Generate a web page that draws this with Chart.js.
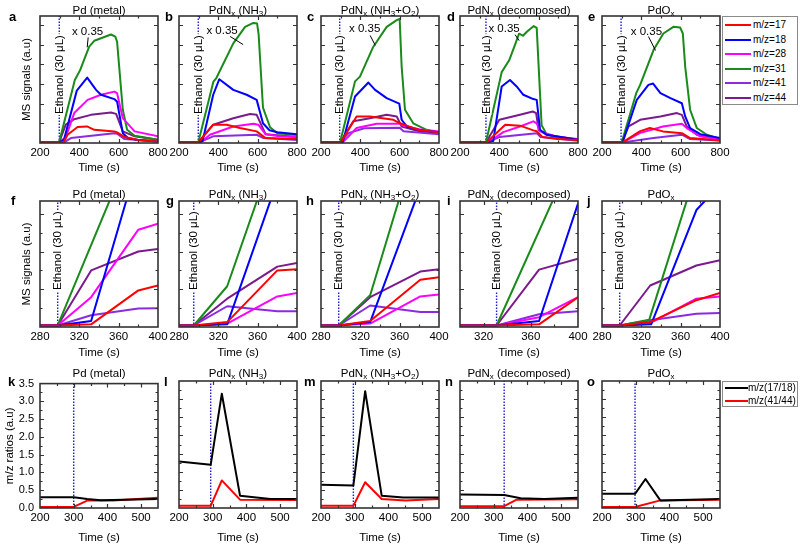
<!DOCTYPE html>
<html><head><meta charset="utf-8">
<script src="https://cdn.jsdelivr.net/npm/chart.js@4.4.1/dist/chart.umd.min.js"></script>
<style>
body{margin:0;background:#fff;width:800px;height:547px;overflow:hidden;position:relative;font-family:"Liberation Sans",Arial,Helvetica,sans-serif;color:#000}
canvas{position:absolute}
.t{position:absolute;font-size:11.5px;white-space:nowrap;transform:translateX(-50%);line-height:13px}
.t sub{font-size:8px;vertical-align:-2px;line-height:0}
.lt{position:absolute;font-weight:bold;font-size:13px;line-height:13px}
.leg{position:absolute;border:1px solid #8a8a8a;background:#fff;box-sizing:border-box}
.lrow{position:absolute;left:0;white-space:nowrap;font-size:10px;line-height:12px}
.lsw{position:absolute;height:0;border-top-style:solid}
</style></head><body>
<script>
// ---------- DATA ----------
const SERIES = ['m/z=17','m/z=18','m/z=28','m/z=31','m/z=41','m/z=44'];
const RATIO_SERIES = ['m/z(17/18)','m/z(41/44)'];
const TITLES = ['Pd (metal)','PdN<sub>x</sub> (NH<sub>3</sub>)','PdN<sub>x</sub> (NH<sub>3</sub>+O<sub>2</sub>)','PdN<sub>x</sub> (decomposed)','PdO<sub>x</sub>'];
const LETTERS = ['a','b','c','d','e','f','g','h','i','j','k','l','m','n','o'];
const INJECT = [298,298,295,332,297, 298,295,298,331,298, 300,294,296,331,298];

// Row 1: full runs (a-e)
const a17=[[200,.03],[300,.03],[322,.06],[340,.42],[391,.81],[439,.84],[476,.67],[578,.59],[592,.54],[630,.30],[700,.15],[800,.08]];
const a18=[[200,.03],[297,.03],[322,.17],[387,2.66],[440,3.32],[485,2.7],[510,2.45],[578,2.23],[592,2.1],[621,.5],[647,.25],[700,.15],[800,.08]];
const a28=[[200,.03],[297,.03],[331,.3],[374,1.52],[442,2.19],[510,2.45],[578,2.61],[592,2.53],[621,1.26],[681,.59],[800,.34]];
const a31=[[200,.03],[297,.03],[377,3.2],[404,3.7],[450,4.89],[476,5.19],[561,5.51],[583,5.4],[592,5.14],[621,1.69],[643,.67],[681,.37],[800,.17]];
const a41=[[200,.03],[322,.03],[357,.25],[578,.5],[592,.47],[630,.2],[800,.08]];
const a44=[[200,.03],[297,.03],[331,.93],[374,1.21],[459,1.43],[561,1.55],[587,1.48],[621,.59],[681,.34],[800,.17]];

const b17=[[200,.03],[298,.03],[374,.93],[442,.93],[510,.76],[595,.59],[640,.25],[800,.2]];
const b18=[[200,.03],[300,.03],[320,.1],[374,2.45],[405,3.24],[476,2.7],[544,2.45],[595,2.19],[627,1.0],[660,.65],[700,.55],[800,.45]];
const b28=[[200,.03],[310,.03],[357,.42],[476,.84],[578,.98],[603,.93],[640,.45],[700,.35],[800,.3]];
const b31=[[200,.03],[298,.03],[375,3.12],[390,3.3],[476,5.06],[536,5.9],[578,6.1],[597,6.07],[605,5.5],[627,1.8],[663,.8],[700,.5],[800,.4]];
const b41=[[200,.03],[300,.03],[374,.34],[595,.42],[630,.25],[800,.15]];
const b44=[[200,.03],[298,.03],[374,.93],[476,1.26],[561,1.47],[595,1.43],[640,.45],[700,.4],[800,.3]];

const c17=[[200,.03],[300,.03],[381,1.35],[449,1.35],[568,1.18],[602,1.0],[636,.88],[700,.65],[800,.54]];
const c18=[[200,.03],[310,.03],[373,2.36],[441,3.07],[475,2.7],[534,2.28],[598,2.0],[610,1.18],[636,.84],[700,.65],[800,.54]];
const c28=[[200,.03],[310,.03],[381,.76],[483,.98],[602,.98],[619,.88],[700,.7],[800,.59]];
const c31=[[200,.03],[297,.03],[373,3.13],[398,3.37],[466,4.89],[534,5.9],[585,6.24],[600,6.3],[610,3.9],[627,1.69],[669,1.0],[737,.67],[800,.5]];
const c41=[[200,.03],[297,.03],[340,.5],[420,.75],[600,.78],[620,.6],[800,.45]];
const c44=[[200,.03],[297,.03],[364,1.1],[449,1.26],[534,1.43],[585,1.35],[610,.84],[700,.6],[800,.5]];

const d17=[[200,.03],[335,.03],[430,.93],[505,.88],[573,.64],[590,.6],[620,.3],[700,.2],[800,.15]];
const d18=[[200,.03],[335,.03],[369,.1],[412,2.87],[454,3.2],[488,2.87],[522,2.45],[573,2.23],[590,2.19],[607,.67],[640,.42],[800,.17]];
const d28=[[200,.03],[345,.03],[420,.55],[505,.84],[573,1.1],[590,1.0],[607,.59],[700,.3],[800,.2]];
const d31=[[200,.03],[332,.03],[412,3.6],[450,4.2],[480,5.0],[500,5.55],[520,5.45],[540,5.65],[575,5.94],[590,5.85],[615,.9],[640,.45],[700,.25],[800,.17]];
const d41=[[200,.03],[335,.03],[400,.3],[590,.5],[610,.3],[800,.12]];
const d44=[[200,.03],[332,.03],[400,1.18],[505,1.43],[570,1.6],[587,1.52],[600,.67],[640,.42],[800,.17]];

const e17=[[200,.03],[305,.03],[392,.59],[443,.76],[510,.59],[606,.5],[648,.25],[800,.13]];
const e18=[[200,.03],[305,.03],[360,1.69],[377,2.19],[436,2.95],[460,3.02],[497,2.53],[548,2.28],[606,2.02],[623,1.35],[648,.76],[700,.45],[800,.25]];
const e28=[[200,.03],[305,.03],[392,.5],[510,.84],[606,.98],[631,.76],[699,.34],[800,.17]];
const e31=[[200,.03],[300,.03],[374,2.53],[394,2.95],[462,4.72],[512,5.56],[563,5.9],[597,5.87],[611,5.56],[623,3.88],[648,1.69],[682,.76],[733,.42],[800,.2]];
const e41=[[200,.03],[305,.03],[462,.25],[606,.42],[648,.2],[800,.13]];
const e44=[[200,.03],[300,.03],[335,.84],[394,1.18],[497,1.35],[581,1.52],[606,1.43],[631,.84],[682,.42],[800,.17]];

// Row 2: zoom on injection (f-j)
const f17=[[280,.04],[298,.04],[332,.07],[380,.97],[400,1.1]];
const f18=[[280,.04],[298,.04],[332,.16],[380,4.44],[400,5.2]];
const f28=[[280,.04],[298,.04],[332,.79],[380,2.58],[400,2.74]];
const f31=[[280,.04],[298,.04],[380,5.18],[400,6.0]];
const f41=[[280,.04],[298,.04],[332,.31],[380,.49],[400,.5]];
const f44=[[280,.04],[298,.04],[332,1.5],[380,2.0],[400,2.07]];

const g17=[[280,.04],[295,.04],[329,.13],[380,1.5],[400,1.53]];
const g18=[[280,.04],[295,.04],[329,.07],[380,3.87],[400,4.5]];
const g28=[[280,.04],[295,.04],[329,.09],[380,.81],[400,.9]];
const g31=[[280,.04],[295,.04],[329,1.08],[380,4.9],[400,5.5]];
const g41=[[280,.04],[295,.04],[329,.55],[380,.42],[400,.42]];
const g44=[[280,.04],[295,.04],[329,.75],[380,1.6],[400,1.7]];

const h17=[[280,.04],[298,.04],[330,.16],[381,1.25],[400,1.32]];
const h18=[[280,.04],[298,.04],[330,.13],[381,3.7],[400,4.5]];
const h28=[[280,.04],[298,.04],[330,.09],[381,.81],[400,.86]];
const h31=[[280,.04],[298,.04],[330,.84],[381,5.25],[400,6.0]];
const h41=[[280,.04],[298,.04],[330,.57],[381,.4],[400,.4]];
const h44=[[280,.04],[298,.04],[330,.79],[381,1.47],[400,1.53]];

const i17=[[300,.04],[331,.04],[367,.07],[400,.79]];
const i18=[[300,.04],[331,.04],[367,.16],[400,3.27]];
const i28=[[300,.04],[331,.04],[367,.26],[400,.79]];
const i31=[[300,.04],[331,.04],[400,4.84]];
const i41=[[300,.04],[331,.04],[367,.34],[400,.42]];
const i44=[[300,.04],[331,.04],[367,1.52],[400,1.81]];

const j17=[[280,.04],[298,.04],[329,.13],[376,.71],[400,.9]];
const j18=[[280,.04],[298,.04],[330,.07],[376,3.1],[400,3.77]];
const j28=[[280,.04],[298,.04],[329,.1],[376,.75],[400,.81]];
const j31=[[280,.04],[298,.04],[328,.19],[380,4.49],[400,5.5]];
const j41=[[280,.04],[298,.04],[329,.18],[376,.35],[400,.37]];
const j44=[[280,.04],[298,.04],[329,1.1],[376,1.63],[400,1.77]];

// Row 3: ratios (k-o)
const k1718=[[200,.3],[300,.3],[340,.25],[380,.22],[450,.23],[550,.25]];
const k4144=[[200,.03],[300,.03],[340,.21],[417,.21],[550,.29]];
const l1718=[[200,1.28],[294,1.19],[327,3.15],[381,.34],[471,.25],[550,.25]];
const l4144=[[200,.06],[294,.06],[327,.76],[381,.23],[550,.22]];
const m1718=[[200,.64],[296,.62],[331,3.22],[380,.34],[444,.29],[550,.29]];
const m4144=[[200,.06],[296,.06],[331,.71],[380,.25],[450,.21],[550,.25]];
const n1718=[[200,.37],[331,.36],[380,.27],[450,.25],[550,.28]];
const n4144=[[200,.05],[331,.05],[368,.23],[550,.24]];
const o1718=[[200,.39],[298,.39],[329,.8],[373,.21],[550,.25]];
const o4144=[[200,.03],[298,.03],[373,.21],[550,.23]];

// Axis tick values
const X1_TICKS=[200,400,600,800], X1_MINOR=[300,500,700];
const X2_TICKS=[280,320,360,400], X2_MINOR=[300,340,380];
const X2I_TICKS=[320,360,400];
const X3_TICKS=[200,300,400,500], X3_MINOR=[250,350,450,550];
const Y1_TICKS=[0,1,2,3,4,5,6];
const Y2_TICKS=[0,1,2,3], Y2_MINOR=[.5,1.5,2.5];
const Y3_TICKS=[0,.5,1,1.5,2,2.5,3,3.5], Y3_MINOR=[.25,.75,1.25,1.75,2.25,2.75,3.25];

// ---------- STYLE / LAYOUT ----------
const FONT='"Liberation Sans", Arial, Helvetica, sans-serif';
const COLORS=['#ff0000','#0000ff','#ff00ff','#1a8a1a','#8a2be2','#7b1a8c'];
const RATIO_COLORS=['#000000','#ff0000'];
const LEFTS=[40,179,321,460,602], PW=118;
const LETTER_X=[9,165,307,447,588, 11,166,306,447,587, 8,164,304,445,587];
const ROWS=[
 {top:16,h:127,xh:33,xmin:200,xmax:800,xt:X1_TICKS,xm:X1_MINOR,ymin:0,ymax:6.45,yt:Y1_TICKS,ym:[],ytitle:'MS signals (a.u)',ytPad:20,eth:29,titleTop:4,letterTop:10},
 {top:201,h:126,xh:34,xmin:280,xmax:400,xt:X2_TICKS,xm:X2_MINOR,ymin:0,ymax:3.34,yt:Y2_TICKS,ym:Y2_MINOR,ytitle:'MS signals (a.u)',ytPad:20,eth:37,titleTop:188,letterTop:194},
 {top:381,h:127,xh:38,xmin:200,xmax:550,xt:X3_TICKS,xm:X3_MINOR,ymin:0,ymax:3.5,yt:Y3_TICKS,ym:Y3_MINOR,ytitle:'m/z ratios (a.u)',ytPad:3,eth:null,titleTop:367,letterTop:375}
];
// "x 0.35" note: text centre (t,v) and leader from (t,v) to (t,v), row 1 data coords
const NOTES=[
 {tx:442,ty:5.67,l:[445,5.36,440,4.86]},
 {tx:419,ty:5.72,l:[460,5.41,526,5.0]},
 {tx:422,ty:5.79,l:[450,5.46,476,4.96]},
 {tx:424,ty:5.79,l:[480,5.5,501,5.2]},
 {tx:426,ty:5.64,l:[436,5.41,472,4.7]}
];
const ROW_DATA=[
 [[a17,a18,a28,a31,a41,a44],[b17,b18,b28,b31,b41,b44],[c17,c18,c28,c31,c41,c44],[d17,d18,d28,d31,d41,d44],[e17,e18,e28,e31,e41,e44]],
 [[f17,f18,f28,f31,f41,f44],[g17,g18,g28,g31,g41,g44],[h17,h18,h28,h31,h41,h44],[i17,i18,i28,i31,i41,i44],[j17,j18,j28,j31,j41,j44]],
 [[k1718,k4144],[l1718,l4144],[m1718,m4144],[n1718,n4144],[o1718,o4144]]
];

function makePanel(r, c){
  const R=ROWS[r]; const idx=r*5+c;
  const padL=40, padR=14, padT=10;
  const xmin=(r===1&&c===3)?300:R.xmin;
  const xt=(r===1&&c===3)?X2I_TICKS:R.xt;
  const W=padL+PW+padR, H=padT+R.h+R.xh;
  const cv=document.createElement('canvas');
  cv.width=W; cv.height=H;
  cv.style.left=(LEFTS[c]-padL)+'px'; cv.style.top=(R.top-padT)+'px';
  cv.style.width=W+'px'; cv.style.height=H+'px';
  document.body.appendChild(cv);
  const series=ROW_DATA[r][c];
  const labels=r===2?RATIO_SERIES:SERIES, cols=r===2?RATIO_COLORS:COLORS;
  const datasets=series.map((d,i)=>({label:labels[i],data:d,borderColor:cols[i],backgroundColor:cols[i],borderWidth:2,pointRadius:0,fill:false,tension:0,borderJoinStyle:'round'}));
  datasets.push({label:'injection',data:[[INJECT[idx],R.ymin],[INJECT[idx],R.ymax]],borderColor:'#1c1cd6',borderWidth:1.4,borderDash:[1.5,1.5],pointRadius:0,fill:false});
  const showY=(c===0);
  const deco={
    id:'deco'+idx,
    afterDatasetsDraw(ch){
      const {ctx,chartArea:a,scales:{x,y}}=ch;
      ctx.save();
      if(R.eth!==null){
        const px=x.getPixelForValue(INJECT[idx]);
        ctx.font='11.5px '+FONT;
        const txt='Ethanol (30 \u03bcL)';
        const w=ctx.measureText(txt).width;
        ctx.translate(px,a.bottom-R.eth); ctx.rotate(-Math.PI/2);
        ctx.fillStyle='#fff'; ctx.fillRect(-1,-5.5,w+2,11);
        ctx.fillStyle='#000'; ctx.textAlign='left'; ctx.textBaseline='middle';
        ctx.fillText(txt,0,0.5);
        ctx.setTransform(1,0,0,1,0,0);
      }
      if(r===0){
        const n=NOTES[c];
        ctx.font='11.5px '+FONT; ctx.fillStyle='#000'; ctx.textAlign='center'; ctx.textBaseline='middle';
        ctx.fillText('x 0.35',x.getPixelForValue(n.tx),y.getPixelForValue(n.ty));
        ctx.strokeStyle='#000'; ctx.lineWidth=1;
        ctx.beginPath(); ctx.moveTo(x.getPixelForValue(n.l[0]),y.getPixelForValue(n.l[1]));
        ctx.lineTo(x.getPixelForValue(n.l[2]),y.getPixelForValue(n.l[3])); ctx.stroke();
      }
      ctx.restore();
    },
    afterDraw(ch){
      const {ctx,chartArea:a,scales:{x,y}}=ch;
      ctx.save(); ctx.strokeStyle='#333'; ctx.lineWidth=1.2;
      const vx=(v,len)=>{const p=Math.round(x.getPixelForValue(v))+0.5; ctx.beginPath(); ctx.moveTo(p,a.bottom); ctx.lineTo(p,a.bottom-len); ctx.moveTo(p,a.top); ctx.lineTo(p,a.top+len); ctx.stroke();};
      const vy=(v,len)=>{const p=Math.round(y.getPixelForValue(v))+0.5; ctx.beginPath(); ctx.moveTo(a.left,p); ctx.lineTo(a.left+len,p); ctx.moveTo(a.right,p); ctx.lineTo(a.right-len,p); ctx.stroke();};
      xt.forEach(v=>{if(v>xmin&&v<R.xmax)vx(v,4);});
      R.xm.forEach(v=>{if(v>xmin&&v<R.xmax)vx(v,2.5);});
      R.yt.forEach(v=>{if(v>R.ymin&&v<R.ymax)vy(v,4);});
      R.ym.forEach(v=>vy(v,2.5));
      ctx.strokeStyle='#333'; ctx.lineWidth=1.6;
      ctx.strokeRect(a.left,a.top,a.right-a.left,a.bottom-a.top);
      ctx.restore();
    }
  };
  new Chart(cv,{type:'line',data:{datasets},plugins:[deco],options:{
    responsive:false,animation:false,devicePixelRatio:1,
    layout:{padding:{left:0,right:padR,top:padT,bottom:0}},
    plugins:{legend:{display:false},tooltip:{enabled:false},title:{display:false}},
    scales:{
      x:{type:'linear',min:xmin,max:R.xmax,grid:{display:false,drawTicks:false},border:{display:false},
        afterBuildTicks:s=>{s.ticks=xt.map(v=>({value:v}));},
        afterFit:s=>{s.height=R.xh;},
        ticks:{font:{size:11.5,family:FONT},color:'#000',padding:3,maxRotation:0,autoSkip:false,callback:v=>String(v)},
        title:{display:true,text:'Time (s)',font:{size:11.5,family:FONT},color:'#000',padding:{top:0,bottom:1}}},
      y:{type:'linear',min:R.ymin,max:R.ymax,grid:{display:false,drawTicks:false},border:{display:false},
        afterBuildTicks:s=>{s.ticks=R.yt.map(v=>({value:v}));},
        afterFit:s=>{s.width=padL;},
        ticks:{display:(r===2&&c===0),font:{size:11,family:FONT},color:'#000',padding:6,callback:v=>Number(v).toFixed(1)},
        title:{display:showY,text:R.ytitle,font:{size:11.5,family:FONT},color:'#000',padding:{top:R.ytPad,bottom:0}}}
    }
  }});
  // title and letter
  const t=document.createElement('div'); t.className='t'; t.innerHTML=TITLES[c];
  t.style.left=(LEFTS[c]+PW/2)+'px'; t.style.top=R.titleTop+'px'; document.body.appendChild(t);
  const L=document.createElement('div'); L.className='lt'; L.textContent=LETTERS[idx];
  L.style.left=LETTER_X[idx]+'px'; L.style.top=R.letterTop+'px'; document.body.appendChild(L);
}

function makeLegend(left,top,w,h,first,step,labels,colors,swW,textX){
  const d=document.createElement('div'); d.className='leg';
  d.style.left=left+'px'; d.style.top=top+'px'; d.style.width=w+'px'; d.style.height=h+'px';
  labels.forEach((lab,i)=>{
    const cy=first+i*step;
    const s=document.createElement('div'); s.className='lsw';
    s.style.left='2px'; s.style.width=swW+'px'; s.style.top=(cy-1.25)+'px';
    s.style.borderTopWidth='2.5px'; s.style.borderTopColor=colors[i];
    d.appendChild(s);
    const tx=document.createElement('div'); tx.className='lrow';
    tx.style.left=textX+'px'; tx.style.top=(cy-6.5)+'px'; tx.textContent=lab;
    d.appendChild(tx);
  });
  document.body.appendChild(d);
}

for(let r=0;r<3;r++) for(let c=0;c<5;c++) makePanel(r,c);
makeLegend(722,16,76,89,8.5,14.5,SERIES,COLORS,26,30);
makeLegend(722,381,76,26,6.5,13,RATIO_SERIES,RATIO_COLORS,23,25);
</script>
</body></html>
